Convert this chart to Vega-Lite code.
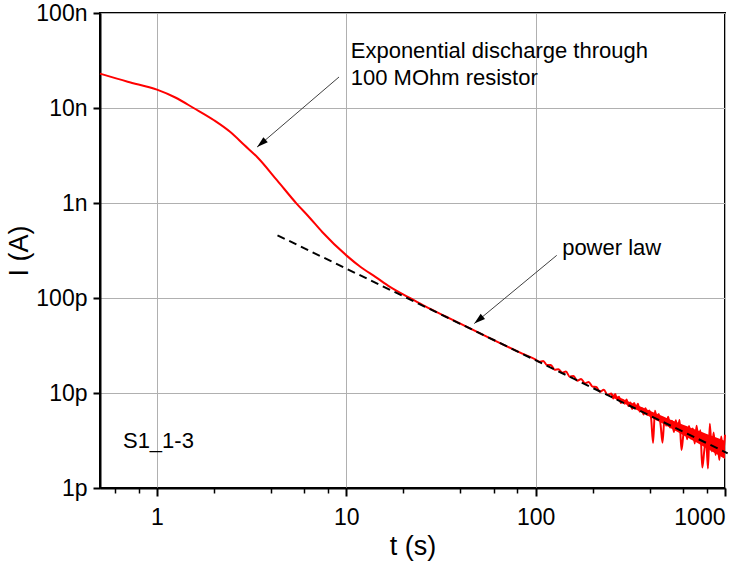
{
  "$schema": "https://vega.github.io/schema/vega-lite/v6.json",
  "width": 625,
  "height": 475,
  "autosize": {"type": "none"},
  "padding": {"left": 100, "top": 13, "right": 27, "bottom": 74},
  "background": "white",
  "config": {
    "view": {"stroke": "black", "strokeWidth": 2},
    "font": "Liberation Sans",
    "axis": {
      "labelFont": "Liberation Sans",
      "labelFontSize": 23,
      "labelColor": "black",
      "titleFont": "Liberation Sans",
      "titleFontSize": 27,
      "titleFontWeight": "normal",
      "titleColor": "black",
      "domainColor": "black",
      "domainWidth": 2,
      "tickColor": "black",
      "tickWidth": 2,
      "tickSize": 8,
      "gridColor": "#b0b0b0",
      "gridWidth": 1
    }
  },
  "datasets": {
    "curve": [
      {"t": 0.5, "I": 2.30e-8}, {"t": 0.7, "I": 1.89e-8}, {"t": 1, "I": 1.56e-8},
      {"t": 1.25, "I": 1.29e-8}, {"t": 1.56, "I": 1.0e-8}, {"t": 2, "I": 7.43e-9},
      {"t": 2.44, "I": 5.58e-9}, {"t": 2.9, "I": 4.05e-9}, {"t": 3.38, "I": 3.05e-9},
      {"t": 4.31, "I": 1.73e-9}, {"t": 5.46, "I": 9.86e-10}, {"t": 6.35, "I": 7.13e-10},
      {"t": 7.46, "I": 4.95e-10}, {"t": 10, "I": 2.81e-10}, {"t": 11.9, "I": 2.12e-10},
      {"t": 14.3, "I": 1.66e-10}, {"t": 17, "I": 1.31e-10}, {"t": 21.5, "I": 1.01e-10},
      {"t": 26, "I": 8.2e-11}, {"t": 33.7, "I": 6.35e-11}, {"t": 50, "I": 4.31e-11},
      {"t": 70, "I": 3.11e-11}, {"t": 85, "I": 2.60e-11},
      {"t": 100, "I": 2.25e-11}, {"t": 104.71, "I": 2.128e-11}, {"t": 109.65, "I": 2.178e-11},
      {"t": 114.82, "I": 1.972e-11}, {"t": 120.23, "I": 1.973e-11}, {"t": 125.89, "I": 1.762e-11},
      {"t": 131.83, "I": 1.782e-11}, {"t": 138.04, "I": 1.637e-11}, {"t": 144.54, "I": 1.679e-11},
      {"t": 151.36, "I": 1.486e-11}, {"t": 158.49, "I": 1.510e-11}, {"t": 165.96, "I": 1.346e-11},
      {"t": 173.78, "I": 1.406e-11}, {"t": 181.97, "I": 1.268e-11}, {"t": 190.55, "I": 1.306e-11},
      {"t": 199.53, "I": 1.167e-11}, {"t": 208.93, "I": 1.156e-11}, {"t": 218.78, "I": 1.028e-11},
      {"t": 229.09, "I": 1.082e-11}, {"t": 239.88, "I": 9.550e-12}, {"t": 251.19, "I": 9.886e-12},
      {"t": 257.04, "I": 8.730e-12}, {"t": 263.03, "I": 9.750e-12}, {"t": 269.15, "I": 8.591e-12},
      {"t": 275.42, "I": 9.141e-12}, {"t": 281.84, "I": 7.835e-12}, {"t": 288.40, "I": 8.492e-12},
      {"t": 295.12, "I": 7.727e-12}, {"t": 302.00, "I": 8.531e-12}, {"t": 309.03, "I": 7.312e-12},
      {"t": 316.23, "I": 7.925e-12}, {"t": 323.59, "I": 6.824e-12}, {"t": 331.13, "I": 7.835e-12},
      {"t": 338.84, "I": 6.887e-12}, {"t": 346.74, "I": 7.692e-12}, {"t": 354.81, "I": 6.368e-12},
      {"t": 363.08, "I": 6.934e-12}, {"t": 371.54, "I": 5.943e-12}, {"t": 380.19, "I": 6.903e-12},
      {"t": 389.05, "I": 5.862e-12}, {"t": 398.11, "I": 6.547e-12}, {"t": 407.38, "I": 5.370e-12},
      {"t": 416.87, "I": 2.985e-12}, {"t": 426.58, "I": 6.517e-12}, {"t": 436.52, "I": 5.273e-12},
      {"t": 446.68, "I": 6.012e-12}, {"t": 457.09, "I": 4.592e-12}, {"t": 467.74, "I": 2.999e-12},
      {"t": 478.63, "I": 5.334e-12}, {"t": 489.78, "I": 4.540e-12}, {"t": 501.19, "I": 5.636e-12},
      {"t": 512.86, "I": 4.335e-12}, {"t": 524.81, "I": 5.094e-12}, {"t": 537.03, "I": 3.882e-12},
      {"t": 549.54, "I": 5.176e-12}, {"t": 562.34, "I": 4.121e-12}, {"t": 575.44, "I": 5.200e-12},
      {"t": 588.84, "I": 2.518e-12}, {"t": 602.56, "I": 3.598e-12}, {"t": 616.60, "I": 4.365e-12},
      {"t": 630.96, "I": 3.266e-12}, {"t": 645.65, "I": 4.488e-12}, {"t": 660.69, "I": 3.327e-12},
      {"t": 676.08, "I": 4.227e-12}, {"t": 691.83, "I": 2.938e-12}, {"t": 707.95, "I": 4.508e-12},
      {"t": 724.44, "I": 3.083e-12}, {"t": 741.31, "I": 4.046e-12}, {"t": 758.58, "I": 1.641e-12},
      {"t": 776.25, "I": 2.410e-12}, {"t": 794.33, "I": 3.420e-12}, {"t": 812.83, "I": 1.607e-12},
      {"t": 831.76, "I": 4.754e-12}, {"t": 851.14, "I": 2.427e-12}, {"t": 870.96, "I": 3.837e-12},
      {"t": 891.25, "I": 2.229e-12}, {"t": 912.01, "I": 3.251e-12}, {"t": 933.25, "I": 1.968e-12},
      {"t": 954.99, "I": 3.475e-12}, {"t": 977.24, "I": 2.307e-12}, {"t": 1000, "I": 3.631e-12}
    ],
    "band": [
      {"t": 251.19, "lo": 9.057e-12, "hi": 9.886e-12},
      {"t": 281.84, "lo": 8.091e-12, "hi": 8.872e-12},
      {"t": 316.23, "lo": 7.194e-12, "hi": 7.998e-12},
      {"t": 354.81, "lo": 6.368e-12, "hi": 7.244e-12},
      {"t": 398.11, "lo": 5.649e-12, "hi": 6.547e-12},
      {"t": 446.68, "lo": 5.000e-12, "hi": 5.929e-12},
      {"t": 501.19, "lo": 4.426e-12, "hi": 5.370e-12},
      {"t": 562.34, "lo": 3.890e-12, "hi": 4.898e-12},
      {"t": 630.96, "lo": 3.420e-12, "hi": 4.467e-12},
      {"t": 707.95, "lo": 3.006e-12, "hi": 4.074e-12},
      {"t": 794.33, "lo": 2.630e-12, "hi": 3.733e-12},
      {"t": 891.25, "lo": 2.301e-12, "hi": 3.420e-12},
      {"t": 1000, "lo": 2.014e-12, "hi": 3.133e-12}
    ],
    "fit": [
      {"t": 4.33, "I": 4.57e-10},
      {"t": 1033, "I": 2.32e-12}
    ],
    "labels": [
      {"t": 10.55, "I": 3.33e-8, "text": "Exponential discharge through"},
      {"t": 10.55, "I": 1.73e-8, "text": "100 MOhm resistor"},
      {"t": 138, "I": 2.81e-10, "text": "power law"},
      {"t": 0.661, "I": 2.62e-12, "text": "S1_1-3"}
    ],
    "arrows": [
      {"id": "a1", "t": 9.15, "I": 2.12e-8, "t2": 3.38, "I2": 3.88e-9},
      {"id": "a2", "t": 129.2, "I": 2.81e-10, "t2": 47.4, "I2": 5.38e-11}
    ]
  },
  "layer": [
    {
      "data": {"name": "curve"},
      "mark": {"type": "line", "color": "#ff0000", "strokeWidth": 2, "interpolate": "monotone"},
      "encoding": {
        "x": {
          "field": "t", "type": "quantitative",
          "scale": {"type": "log", "domain": [0.5, 1000], "nice": false},
          "axis": {
            "orient": "bottom",
            "values": [1, 10, 100, 1000],
            "format": "d",
            "grid": true,
            "labelPadding": 10,
            "title": "t (s)",
            "titlePadding": 4
          }
        },
        "y": {
          "field": "I", "type": "quantitative",
          "scale": {"type": "log", "domain": [1e-12, 1e-7], "nice": false},
          "axis": {
            "values": [1e-12, 1e-11, 1e-10, 1e-9, 1e-8, 1e-7],
            "labelExpr": "datum.value >= 5e-8 ? '100n' : datum.value >= 5e-9 ? '10n' : datum.value >= 5e-10 ? '1n' : datum.value >= 5e-11 ? '100p' : datum.value >= 5e-12 ? '10p' : '1p'",
            "grid": true,
            "tickSize": 7,
            "labelPadding": 6,
            "title": "I (A)",
            "titlePadding": 2
          }
        }
      }
    },
    {
      "data": {"name": "band"},
      "mark": {"type": "area", "color": "#ff0000", "opacity": 1, "interpolate": "monotone"},
      "encoding": {
        "x": {"field": "t", "type": "quantitative", "scale": {"type": "log", "domain": [0.5, 1000], "nice": false}, "axis": null},
        "y": {"field": "lo", "type": "quantitative", "scale": {"type": "log", "domain": [1e-12, 1e-7], "nice": false}},
        "y2": {"field": "hi"}
      }
    },
    {
      "data": {"name": "fit"},
      "mark": {"type": "line", "color": "black", "strokeWidth": 2, "strokeDash": [8, 5], "clip": false},
      "encoding": {
        "x": {
          "field": "t", "type": "quantitative",
          "scale": {"type": "log", "domain": [0.5, 1000], "nice": false},
          "axis": {
            "orient": "bottom",
            "values": [0.6, 0.8, 2, 4, 6, 8, 20, 40, 60, 80, 200, 400, 600, 800],
            "labels": false,
            "grid": false,
            "domain": false,
            "tickSize": 5,
            "tickWidth": 1.5,
            "title": null
          }
        },
        "y": {"field": "I", "type": "quantitative", "scale": {"type": "log", "domain": [1e-12, 1e-7], "nice": false}}
      }
    },
    {
      "data": {"name": "arrows"},
      "mark": {"type": "rule", "color": "#404040", "strokeWidth": 1},
      "encoding": {
        "x": {"field": "t", "type": "quantitative", "scale": {"type": "log", "domain": [0.5, 1000], "nice": false}, "axis": null},
        "y": {"field": "I", "type": "quantitative", "scale": {"type": "log", "domain": [1e-12, 1e-7], "nice": false}},
        "x2": {"field": "t2"},
        "y2": {"field": "I2"}
      }
    },
    {
      "data": {"name": "arrows"},
      "transform": [{"filter": "datum.id == 'a1'"}],
      "mark": {"type": "point", "shape": "M0,0L0.3,1L-0.3,1Z", "filled": true, "color": "black", "opacity": 1, "size": 500, "angle": 229},
      "encoding": {
        "x": {"field": "t2", "type": "quantitative", "scale": {"type": "log", "domain": [0.5, 1000], "nice": false}, "axis": null},
        "y": {"field": "I2", "type": "quantitative", "scale": {"type": "log", "domain": [1e-12, 1e-7], "nice": false}}
      }
    },
    {
      "data": {"name": "arrows"},
      "transform": [{"filter": "datum.id == 'a2'"}],
      "mark": {"type": "point", "shape": "M0,0L0.3,1L-0.3,1Z", "filled": true, "color": "black", "opacity": 1, "size": 500, "angle": 230},
      "encoding": {
        "x": {"field": "t2", "type": "quantitative", "scale": {"type": "log", "domain": [0.5, 1000], "nice": false}, "axis": null},
        "y": {"field": "I2", "type": "quantitative", "scale": {"type": "log", "domain": [1e-12, 1e-7], "nice": false}}
      }
    },
    {
      "data": {"name": "labels"},
      "mark": {"type": "text", "align": "left", "baseline": "alphabetic", "fontSize": 22, "font": "Liberation Sans", "color": "black"},
      "encoding": {
        "x": {"field": "t", "type": "quantitative", "scale": {"type": "log", "domain": [0.5, 1000], "nice": false}, "axis": null},
        "y": {"field": "I", "type": "quantitative", "scale": {"type": "log", "domain": [1e-12, 1e-7], "nice": false}},
        "text": {"field": "text"}
      }
    }
  ],
  "resolve": {"axis": {"x": "independent"}}
}
